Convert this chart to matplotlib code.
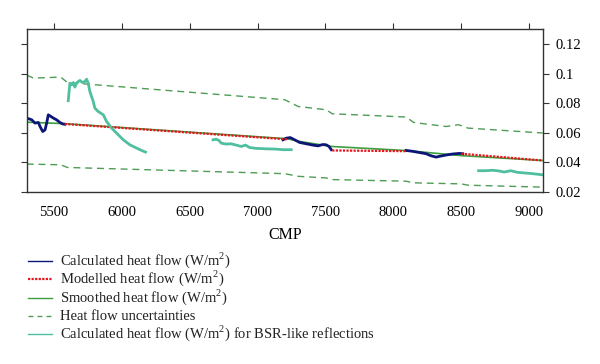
import matplotlib
matplotlib.use("Agg")
import matplotlib.pyplot as plt
from matplotlib.lines import Line2D

plt.rcParams['font.family'] = ['Liberation Serif', 'DejaVu Serif']
plt.rcParams['mathtext.fontset'] = 'custom'
plt.rcParams['mathtext.rm'] = 'Liberation Serif'
plt.rcParams['font.size'] = 10.5

# calculated heat flow (three pieces)
calc1_x = [5300, 5337, 5361, 5386, 5398, 5418, 5435, 5447, 5459, 5471, 5496, 5520, 5545, 5565, 5580]
calc1_y = [0.0700, 0.0688, 0.0666, 0.0670, 0.0643, 0.0609, 0.0620, 0.0666, 0.0722, 0.0715, 0.0700, 0.0688, 0.0670, 0.0660, 0.0658]
calc2_x = [7187, 7212, 7241, 7273, 7310, 7359, 7408, 7445, 7481, 7506, 7526, 7543]
calc2_y = [0.0553, 0.0564, 0.0568, 0.0553, 0.0535, 0.0526, 0.0517, 0.0512, 0.0521, 0.0519, 0.0508, 0.0486]
calc3_x = [8094, 8143, 8192, 8241, 8278, 8315, 8339, 8388, 8437, 8486, 8511]
calc3_y = [0.0481, 0.0475, 0.0467, 0.0459, 0.0445, 0.0436, 0.0441, 0.0450, 0.0457, 0.0461, 0.0459]

# modelled heat flow
model_x = [5580, 7220, None, 7550, 8100, None, 8500, 9100]
model_y = [0.0660, 0.0556, None, 0.0481, 0.0476, None, 0.0459, 0.0413]

# smoothed heat flow
smooth_x = [5300, 5580, 7220, 7310, 7543, 8100, 8500, 9100]
smooth_y = [0.0672, 0.0662, 0.0560, 0.0542, 0.0508, 0.0480, 0.0446, 0.0413]

# uncertainties
upper_x = [5300, 5350, 5550, 5600, 7200, 7300, 7506, 7550, 8094, 8150, 8388, 8480, 8550, 9100]
upper_y = [0.0990, 0.0970, 0.0977, 0.0940, 0.0824, 0.0778, 0.0756, 0.0729, 0.0707, 0.0670, 0.0643, 0.0655, 0.0632, 0.0599]
lower_x = [5300, 5550, 5600, 7200, 7300, 7506, 7550, 8094, 8150, 8500, 8550, 9100]
lower_y = [0.0389, 0.0384, 0.0366, 0.0324, 0.0306, 0.0295, 0.0284, 0.0273, 0.0262, 0.0255, 0.0246, 0.0233]

# BSR-like reflections
bsr1_x = [5606, 5618, 5631, 5643, 5655, 5667, 5680, 5692, 5712, 5729, 5741, 5753, 5765, 5790, 5802,
          5827, 5864, 5888, 5925, 5962, 6011, 6060, 6109, 6146, 6175]
bsr1_y = [0.0817, 0.0936, 0.0925, 0.0940, 0.0909, 0.0936, 0.0947, 0.0954, 0.0940, 0.0947, 0.0963, 0.0936, 0.0880,
          0.0812, 0.0767, 0.0744, 0.0722, 0.0677, 0.0632, 0.0598, 0.0553, 0.0519, 0.0497, 0.0481, 0.0470]
bsr2_x = [6672, 6696, 6716, 6733, 6770, 6806, 6843, 6880, 6912, 6941, 6990, 7064, 7137, 7187, 7248]
bsr2_y = [0.0553, 0.0557, 0.0548, 0.0530, 0.0524, 0.0526, 0.0517, 0.0508, 0.0517, 0.0501, 0.0495, 0.0492,
          0.0490, 0.0486, 0.0486]
bsr3_x = [8628, 8682, 8731, 8780, 8816, 8865, 8914, 8976, 9025, 9093]
bsr3_y = [0.0344, 0.0344, 0.0347, 0.0342, 0.0335, 0.0344, 0.0333, 0.0328, 0.0324, 0.0317]

navy = '#0c1677'
red = '#e8141c'
green = '#3d9e3d'
dgreen = '#4f9d55'
teal = '#4fbf9f'

fig = plt.figure(figsize=(6, 3.64), dpi=100)
ax = fig.add_axes([0.0445, 0.4725, 0.86, 0.447])

ax.plot(upper_x, upper_y, color=dgreen, lw=1, ls=(0, (5, 3.5)))
ax.plot(lower_x, lower_y, color=dgreen, lw=1, ls=(0, (5, 3.5)))
ax.plot(smooth_x, smooth_y, color=green, lw=1.2)
for xs, ys in [(calc1_x, calc1_y), (calc2_x, calc2_y), (calc3_x, calc3_y)]:
    ax.plot(xs, ys, color=navy, lw=2)
for i in range(0, len(model_x), 3):
    ax.plot(model_x[i:i + 2], model_y[i:i + 2], color=red, lw=1.6, ls=(0, (1, 0.6)))
for xs, ys in [(bsr1_x, bsr1_y), (bsr2_x, bsr2_y), (bsr3_x, bsr3_y)]:
    ax.plot(xs, ys, color=teal, lw=2)

ax.set_xlim(5300, 9100)
ax.set_ylim(0.02, 0.13)
ax.set_xticks([5500, 6000, 6500, 7000, 7500, 8000, 8500, 9000])
ax.set_yticks([0.02, 0.04, 0.06, 0.08, 0.1, 0.12])
ax.set_yticklabels(['0.02', '0.04', '0.06', '0.08', '0.1', '0.12'])
ax.tick_params(axis='x', bottom=False, top=True, labelbottom=True, direction='out', length=4, pad=6,
               color='#333333', labelsize=10.5)
ax.tick_params(axis='y', left=True, right=True, labelleft=False, labelright=True, direction='out', length=4,
               pad=5, color='#333333', labelsize=10.5)
for s in ax.spines.values():
    s.set_color('#333333')
    s.set_linewidth(1)
ax.set_xlabel('CMP', fontsize=11.5, labelpad=6)

# legend drawn as fixed rows below the axes
styles = [
    dict(color=navy, lw=1),
    dict(color=red, lw=1.6, ls=(0, (1, 0.6))),
    dict(color=green, lw=1),
    dict(color=dgreen, lw=1, ls=(0, (3.5, 3))),
    dict(color=teal, lw=1),
]
labels = [
    'Calculated heat flow (W/m$^2$)',
    'Modelled heat flow (W/m$^2$)',
    'Smoothed heat flow (W/m$^2$)',
    'Heat flow uncertainties',
    'Calculated heat flow (W/m$^2$) for BSR-like reflections',
]
W, H = 600.0, 364.0
for k, (st, lab) in enumerate(zip(styles, labels)):
    yc = 261 + k * 18.3
    fig.add_artist(Line2D([28 / W, 52 / W], [1 - yc / H, 1 - yc / H], transform=fig.transFigure, **st))
    fig.text(60 / W, 1 - (yc + 4) / H, lab, ha='left', va='baseline', fontsize=10.5, color='#222222')

fig.savefig('out.png', dpi=100)
